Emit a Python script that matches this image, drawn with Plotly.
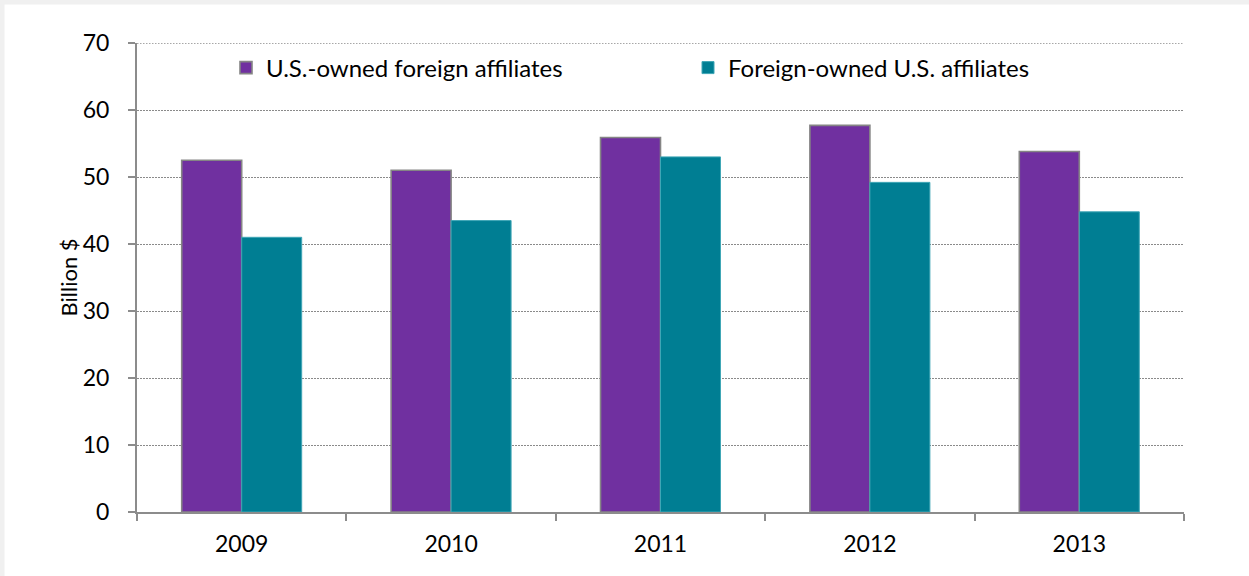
import plotly.graph_objects as go

# Data (billion dollars)
years = ["2009", "2010", "2011", "2012", "2013"]
us_owned_foreign = [52.5, 51.0, 55.9, 57.7, 53.8]
foreign_owned_us = [41.0, 43.5, 53.0, 49.2, 44.8]
series_names = ["U.S.-owned foreign affiliates", "Foreign-owned U.S. affiliates"]
y_ticks = [0, 10, 20, 30, 40, 50, 60, 70]

# Canvas and plot-area geometry (pixels)
W, H = 1249, 576
ML, MR, MT, MB = 137, 65, 43, 64
PW, PH = W - ML - MR, H - MT - MB

PURPLE = "#7030A0"
TEAL = "#007E93"
AXIS_GRAY = "#8C8C8C"
GRID_GRAY = "#8A8A8A"
GRID_DASH = "1.5px,1.5px"
FONT = "Lato"


def px_x(px):
    return (px - ML) / PW


def px_y(py):
    return (H - MB - py) / PH


fig = go.Figure()
fig.add_trace(go.Bar(
    x=years, y=us_owned_foreign, name=series_names[0],
    marker=dict(color=PURPLE, line=dict(color="#858585", width=1.6)),
))
fig.add_trace(go.Bar(
    x=years, y=foreign_owned_us, name=series_names[1],
    marker=dict(color=TEAL, line=dict(color="#3FA6B6", width=1)),
))

# light frame strips along the top and left edges
fig.add_shape(type="rect", xref="paper", yref="paper", layer="below",
              x0=px_x(0), x1=px_x(W), y0=px_y(4.5), y1=px_y(0),
              fillcolor="#F0F0F0", line=dict(width=0))
fig.add_shape(type="rect", xref="paper", yref="paper", layer="below",
              x0=px_x(0), x1=px_x(4.5), y0=px_y(H), y1=px_y(0),
              fillcolor="#F0F0F0", line=dict(width=0))

# gridline at the top of the value range (sits on the plot edge)
fig.add_shape(type="line", xref="paper", yref="y", layer="below",
              x0=0, x1=1, y0=y_ticks[-1], y1=y_ticks[-1],
              line=dict(color=GRID_GRAY, width=1.3, dash=GRID_DASH))

# vertical axis title
fig.add_annotation(text="Billion $", xref="paper", yref="paper",
                   x=px_x(68), y=0.5, xanchor="center", yanchor="middle",
                   textangle=-90, showarrow=False,
                   font=dict(family=FONT, size=22, color="#000000"))

fig.update_layout(
    width=W, height=H,
    margin=dict(l=ML, r=MR, t=MT, b=MB, pad=0),
    paper_bgcolor="white", plot_bgcolor="white",
    barmode="group", bargap=0.427, bargroupgap=0,
    font=dict(family=FONT, color="#000000", size=22),
    showlegend=True,
    legend=dict(
        orientation="h", x=px_x(226), y=px_y(68),
        xanchor="left", yanchor="middle",
        bgcolor="rgba(0,0,0,0)",
        font=dict(family=FONT, size=24, color="#000000"),
        entrywidth=417, entrywidthmode="pixels",
        traceorder="normal",
    ),
    xaxis=dict(
        type="category", range=[-0.5, 4.5],
        showline=True, linecolor=AXIS_GRAY, linewidth=2,
        ticks="outside", tickson="boundaries", ticklen=7,
        tickcolor=AXIS_GRAY, tickwidth=2,
        showgrid=False, zeroline=False,
        tickfont=dict(family=FONT, size=23, color="#000000"),
        ticklabelstandoff=10,
    ),
    yaxis=dict(
        range=[0, 70], tickvals=y_ticks,
        showline=True, linecolor=AXIS_GRAY, linewidth=2,
        ticks="outside", ticklen=7, tickcolor=AXIS_GRAY, tickwidth=2,
        showgrid=True, gridcolor=GRID_GRAY, gridwidth=1.3,
        griddash=GRID_DASH,
        zeroline=False,
        tickfont=dict(family=FONT, size=23, color="#000000"),
        ticklabelstandoff=14,
    ),
)

fig.write_html("out.html")
